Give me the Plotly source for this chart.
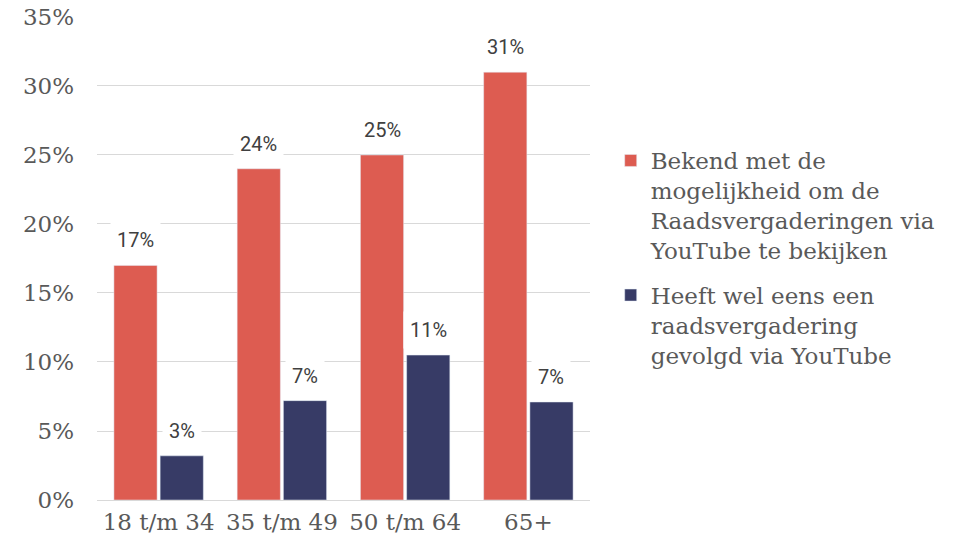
import plotly.graph_objects as go

categories = ["18 t/m 34", "35 t/m 49", "50 t/m 64", "65+"]
bekend = [17, 24, 25, 31]
gevolgd = [3.2, 7.2, 10.5, 7.1]
name_bekend = "Bekend met de<br>mogelijkheid om de<br>Raadsvergaderingen via<br>YouTube te bekijken"
name_gevolgd = "Heeft wel eens een<br>raadsvergadering<br>gevolgd via YouTube"
y_ticks = [0, 5, 10, 15, 20, 25, 30, 35]

RED = "#DD5C51"
NAVY = "#373B66"
SERIF = "DejaVu Serif"
GREY = "#595959"

fig = go.Figure()
fig.add_trace(go.Bar(x=categories, y=bekend, name=name_bekend, marker=dict(color=RED),
                     legendgroup="a", hoverinfo="skip"))
fig.add_trace(go.Bar(x=categories, y=gevolgd, name=name_gevolgd, marker=dict(color=NAVY),
                     legendgroup="b", hoverinfo="skip"))

def lab(v):
    return f"{int(v + 0.5)}%"

annotations = []
for series, shift in ((bekend, -23), (gevolgd, 23)):
    for c, v in zip(categories, series):
        annotations.append(dict(x=c, y=v, xref="x", yref="y", text=lab(v), showarrow=False,
                                xshift=shift, yshift=6, yanchor="bottom",
                                font=dict(family="Roboto", size=20, color="#404040"),
                                bgcolor="white", borderpad=6))

fig.update_layout(
    width=964, height=547,
    margin=dict(l=97, r=374, t=16, b=47, autoexpand=False),
    paper_bgcolor="white", plot_bgcolor="white",
    barmode="group", bargap=0.25, bargroupgap=0.065,
    annotations=annotations,
    showlegend=True,
    legend=dict(x=1.042, y=0.5, xanchor="left", yanchor="middle", valign="top",
                font=dict(family=SERIF, size=23, color=GREY),
                traceorder="grouped", tracegroupgap=12, itemwidth=30),
    xaxis=dict(tickfont=dict(family=SERIF, size=23, color=GREY), showgrid=False,
               showline=False, ticklabelstandoff=6, automargin=False),
    yaxis=dict(range=[0, 35.07], tickmode="array", tickvals=y_ticks,
               ticktext=[f"{t}%" for t in y_ticks],
               tickfont=dict(family=SERIF, size=23, color=GREY),
               showgrid=True, gridcolor="#D9D9D9", gridwidth=1,
               zeroline=True, zerolinecolor="#D9D9D9", zerolinewidth=1,
               ticklabelstandoff=22, automargin=False),
)

fig.write_html("out.html", config={"displayModeBar": False},
               post_script="document.body.style.margin='0';document.body.style.overflow='hidden';")
